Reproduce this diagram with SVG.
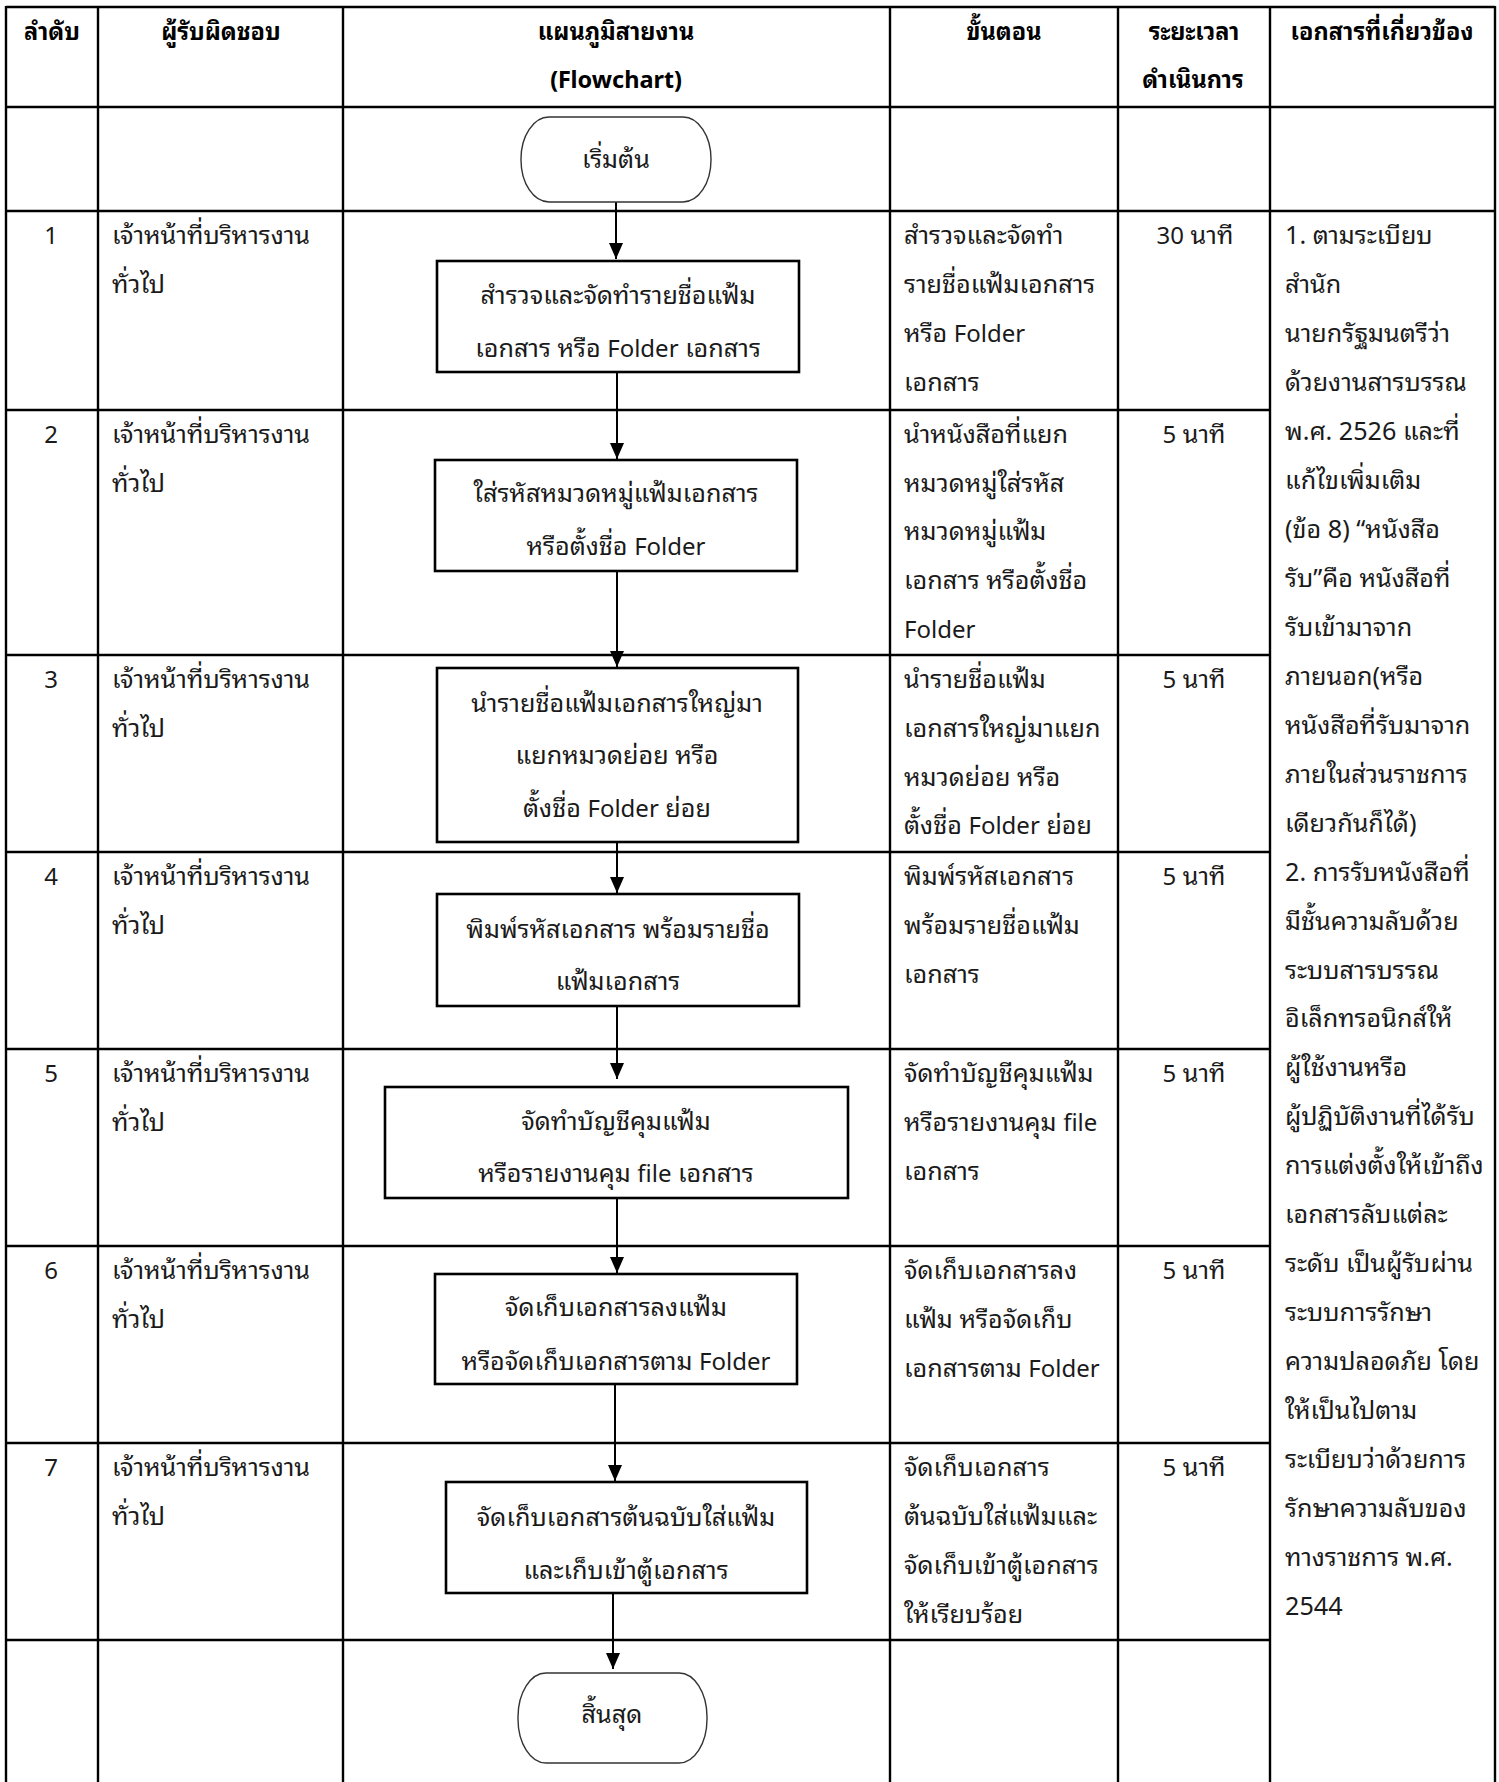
<svg xmlns="http://www.w3.org/2000/svg" width="1499" height="1782" viewBox="0 0 1499 1782">
<style>
.grid{stroke:#000;stroke-width:2.4;fill:none}
.t{font-family:"Noto Sans Thai Looped","Leelawadee UI","Noto Sans Thai","Noto Sans",sans-serif;font-size:25.2px;fill:#1a1a1a}
.h{font-family:"Noto Sans Thai Looped","Leelawadee UI","Noto Sans Thai","Noto Sans",sans-serif;font-size:23.5px;font-weight:bold;fill:#000}
.l{font-size:24px}
.c{text-anchor:middle}
.box{fill:#fff;stroke:#000;stroke-width:2.6}
.term{fill:#fff;stroke:#333;stroke-width:1.4}
.conn{stroke:#000;stroke-width:2;fill:none}
</style>
<defs>
<marker id="arr" markerUnits="userSpaceOnUse" markerWidth="16" markerHeight="16" refX="16" refY="7" orient="auto">
<path d="M0,0 L16,7 L0,14 z" fill="#000"/>
</marker>
</defs>
<rect width="1499" height="1782" fill="#fff"/>
<g id="table">
<line class="grid" x1="6" y1="7" x2="1495" y2="7"/>
<line class="grid" x1="6" y1="107" x2="1495" y2="107"/>
<line class="grid" x1="6" y1="211" x2="1495" y2="211"/>
<line class="grid" x1="6" y1="410" x2="1270" y2="410"/>
<line class="grid" x1="6" y1="655" x2="1270" y2="655"/>
<line class="grid" x1="6" y1="852" x2="1270" y2="852"/>
<line class="grid" x1="6" y1="1049" x2="1270" y2="1049"/>
<line class="grid" x1="6" y1="1246" x2="1270" y2="1246"/>
<line class="grid" x1="6" y1="1443" x2="1270" y2="1443"/>
<line class="grid" x1="6" y1="1640" x2="1270" y2="1640"/>
<line class="grid" x1="6" y1="6" x2="6" y2="1782"/>
<line class="grid" x1="98" y1="6" x2="98" y2="1782"/>
<line class="grid" x1="343" y1="6" x2="343" y2="1782"/>
<line class="grid" x1="890" y1="6" x2="890" y2="1782"/>
<line class="grid" x1="1118" y1="6" x2="1118" y2="1782"/>
<line class="grid" x1="1270" y1="6" x2="1270" y2="1782"/>
<line class="grid" x1="1495" y1="6" x2="1495" y2="1782"/>
</g>
<g id="header">
<text class="h c" x="52" y="40">ลำดับ</text>
<text class="h c" x="221" y="40">ผู้รับผิดชอบ</text>
<text class="h c" x="616" y="40">แผนภูมิสายงาน</text>
<text class="h c" x="616" y="88">(Flowchart)</text>
<text class="h c" x="1004" y="40">ขั้นตอน</text>
<text class="h c" x="1194" y="40">ระยะเวลา</text>
<text class="h c" x="1193" y="88">ดำเนินการ</text>
<text class="h c" x="1382" y="40">เอกสารที่เกี่ยวข้อง</text>
</g>
<g id="connectors">
<line class="conn" x1="616" y1="202" x2="616" y2="259" marker-end="url(#arr)"/>
<line class="conn" x1="617" y1="372" x2="617" y2="459" marker-end="url(#arr)"/>
<line class="conn" x1="617" y1="571" x2="617" y2="667" marker-end="url(#arr)"/>
<line class="conn" x1="617" y1="842" x2="617" y2="893" marker-end="url(#arr)"/>
<line class="conn" x1="617" y1="1006" x2="617" y2="1079" marker-end="url(#arr)"/>
<line class="conn" x1="617" y1="1198" x2="617" y2="1273" marker-end="url(#arr)"/>
<line class="conn" x1="615" y1="1384" x2="615" y2="1481" marker-end="url(#arr)"/>
<line class="conn" x1="613" y1="1593" x2="613" y2="1669" marker-end="url(#arr)"/>
</g>
<g id="start">
<rect class="term" x="521" y="117" width="190" height="85" rx="28" ry="42"/>
<text class="t c" x="616" y="168">เริ่มต้น</text>
</g>
<g id="step1">
<rect class="box" x="437" y="261" width="362" height="111"/>
<text class="t c" x="618" y="304">สำรวจและจัดทำรายชื่อแฟ้ม</text>
<text class="t c" x="618" y="357">เอกสาร หรือ <tspan class="l">Folder</tspan> เอกสาร</text>
</g>
<g id="step2">
<rect class="box" x="435" y="460" width="362" height="111"/>
<text class="t c" x="616" y="502">ใส่รหัสหมวดหมู่แฟ้มเอกสาร</text>
<text class="t c" x="616" y="555">หรือตั้งชื่อ <tspan class="l">Folder</tspan></text>
</g>
<g id="step3">
<rect class="box" x="437" y="668" width="361" height="174"/>
<text class="t c" x="617" y="712">นำรายชื่อแฟ้มเอกสารใหญ่มา</text>
<text class="t c" x="617" y="764">แยกหมวดย่อย หรือ</text>
<text class="t c" x="617" y="817">ตั้งชื่อ <tspan class="l">Folder</tspan> ย่อย</text>
</g>
<g id="step4">
<rect class="box" x="437" y="894" width="362" height="112"/>
<text class="t c" x="618" y="938">พิมพ์รหัสเอกสาร พร้อมรายชื่อ</text>
<text class="t c" x="618" y="990">แฟ้มเอกสาร</text>
</g>
<g id="step5">
<rect class="box" x="385" y="1087" width="463" height="111"/>
<text class="t c" x="616" y="1130">จัดทำบัญชีคุมแฟ้ม</text>
<text class="t c" x="616" y="1182">หรือรายงานคุม <tspan class="l">file</tspan> เอกสาร</text>
</g>
<g id="step6">
<rect class="box" x="435" y="1274" width="362" height="110"/>
<text class="t c" x="616" y="1316">จัดเก็บเอกสารลงแฟ้ม</text>
<text class="t c" x="616" y="1370">หรือจัดเก็บเอกสารตาม <tspan class="l">Folder</tspan></text>
</g>
<g id="step7">
<rect class="box" x="446" y="1482" width="361" height="111"/>
<text class="t c" x="626" y="1526">จัดเก็บเอกสารต้นฉบับใส่แฟ้ม</text>
<text class="t c" x="626" y="1579">และเก็บเข้าตู้เอกสาร</text>
</g>
<g id="end">
<rect class="term" x="518" y="1673" width="189" height="90" rx="28" ry="44"/>
<text class="t c" x="612" y="1723">สิ้นสุด</text>
</g>
<g id="col-no">
<text class="t c l" x="51" y="244">1</text>
<text class="t c l" x="51" y="443">2</text>
<text class="t c l" x="51" y="688">3</text>
<text class="t c l" x="51" y="885">4</text>
<text class="t c l" x="51" y="1082">5</text>
<text class="t c l" x="51" y="1279">6</text>
<text class="t c l" x="51" y="1476">7</text>
</g>
<g id="col-resp">
<text class="t" x="112" y="244">เจ้าหน้าที่บริหารงาน</text><text class="t" x="112" y="293">ทั่วไป</text>
<text class="t" x="112" y="443">เจ้าหน้าที่บริหารงาน</text><text class="t" x="112" y="492">ทั่วไป</text>
<text class="t" x="112" y="688">เจ้าหน้าที่บริหารงาน</text><text class="t" x="112" y="737">ทั่วไป</text>
<text class="t" x="112" y="885">เจ้าหน้าที่บริหารงาน</text><text class="t" x="112" y="934">ทั่วไป</text>
<text class="t" x="112" y="1082">เจ้าหน้าที่บริหารงาน</text><text class="t" x="112" y="1131">ทั่วไป</text>
<text class="t" x="112" y="1279">เจ้าหน้าที่บริหารงาน</text><text class="t" x="112" y="1328">ทั่วไป</text>
<text class="t" x="112" y="1476">เจ้าหน้าที่บริหารงาน</text><text class="t" x="112" y="1525">ทั่วไป</text>
</g>
<g id="col-steps">
<text class="t" x="904" y="244">สำรวจและจัดทำ</text>
<text class="t" x="904" y="293">รายชื่อแฟ้มเอกสาร</text>
<text class="t" x="904" y="342">หรือ <tspan class="l">Folder</tspan></text>
<text class="t" x="904" y="391">เอกสาร</text>
<text class="t" x="904" y="443">นำหนังสือที่แยก</text>
<text class="t" x="904" y="492">หมวดหมู่ใส่รหัส</text>
<text class="t" x="904" y="540">หมวดหมู่แฟ้ม</text>
<text class="t" x="904" y="589">เอกสาร หรือตั้งชื่อ</text>
<text class="t l" x="904" y="638">Folder</text>
<text class="t" x="904" y="688">นำรายชื่อแฟ้ม</text>
<text class="t" x="904" y="737">เอกสารใหญ่มาแยก</text>
<text class="t" x="904" y="786">หมวดย่อย หรือ</text>
<text class="t" x="904" y="834">ตั้งชื่อ <tspan class="l">Folder</tspan> ย่อย</text>
<text class="t" x="904" y="885">พิมพ์รหัสเอกสาร</text>
<text class="t" x="904" y="934">พร้อมรายชื่อแฟ้ม</text>
<text class="t" x="904" y="983">เอกสาร</text>
<text class="t" x="904" y="1082">จัดทำบัญชีคุมแฟ้ม</text>
<text class="t" x="904" y="1131">หรือรายงานคุม <tspan class="l">file</tspan></text>
<text class="t" x="904" y="1180">เอกสาร</text>
<text class="t" x="904" y="1279">จัดเก็บเอกสารลง</text>
<text class="t" x="904" y="1328">แฟ้ม หรือจัดเก็บ</text>
<text class="t" x="904" y="1377">เอกสารตาม <tspan class="l">Folder</tspan></text>
<text class="t" x="904" y="1476">จัดเก็บเอกสาร</text>
<text class="t" x="904" y="1525">ต้นฉบับใส่แฟ้มและ</text>
<text class="t" x="904" y="1574">จัดเก็บเข้าตู้เอกสาร</text>
<text class="t" x="904" y="1623">ให้เรียบร้อย</text>
</g>
<g id="col-time">
<text class="t c" x="1195" y="244"><tspan class="l">30</tspan> นาที</text>
<text class="t c" x="1194" y="443"><tspan class="l">5</tspan> นาที</text>
<text class="t c" x="1194" y="688"><tspan class="l">5</tspan> นาที</text>
<text class="t c" x="1194" y="885"><tspan class="l">5</tspan> นาที</text>
<text class="t c" x="1194" y="1082"><tspan class="l">5</tspan> นาที</text>
<text class="t c" x="1194" y="1279"><tspan class="l">5</tspan> นาที</text>
<text class="t c" x="1194" y="1476"><tspan class="l">5</tspan> นาที</text>
</g>
<g id="col-docs">
<text class="t" x="1285" y="244">1. ตามระเบียบ</text>
<text class="t" x="1285" y="293">สำนัก</text>
<text class="t" x="1285" y="342">นายกรัฐมนตรีว่า</text>
<text class="t" x="1285" y="391">ด้วยงานสารบรรณ</text>
<text class="t" x="1285" y="440">พ.ศ. 2526 และที่</text>
<text class="t" x="1285" y="489">แก้ไขเพิ่มเติม</text>
<text class="t" x="1285" y="538">(ข้อ 8) “หนังสือ</text>
<text class="t" x="1285" y="587">รับ”คือ หนังสือที่</text>
<text class="t" x="1285" y="636">รับเข้ามาจาก</text>
<text class="t" x="1285" y="685">ภายนอก(หรือ</text>
<text class="t" x="1285" y="734">หนังสือที่รับมาจาก</text>
<text class="t" x="1285" y="783">ภายในส่วนราชการ</text>
<text class="t" x="1285" y="832">เดียวกันก็ได้)</text>
<text class="t" x="1285" y="881">2. การรับหนังสือที่</text>
<text class="t" x="1285" y="930">มีชั้นความลับด้วย</text>
<text class="t" x="1285" y="979">ระบบสารบรรณ</text>
<text class="t" x="1285" y="1027">อิเล็กทรอนิกส์ให้</text>
<text class="t" x="1285" y="1076">ผู้ใช้งานหรือ</text>
<text class="t" x="1285" y="1125">ผู้ปฏิบัติงานที่ได้รับ</text>
<text class="t" x="1285" y="1174">การแต่งตั้งให้เข้าถึง</text>
<text class="t" x="1285" y="1223">เอกสารลับแต่ละ</text>
<text class="t" x="1285" y="1272">ระดับ เป็นผู้รับผ่าน</text>
<text class="t" x="1285" y="1321">ระบบการรักษา</text>
<text class="t" x="1285" y="1370">ความปลอดภัย โดย</text>
<text class="t" x="1285" y="1419">ให้เป็นไปตาม</text>
<text class="t" x="1285" y="1468">ระเบียบว่าด้วยการ</text>
<text class="t" x="1285" y="1517">รักษาความลับของ</text>
<text class="t" x="1285" y="1566">ทางราชการ พ.ศ.</text>
<text class="t" x="1285" y="1615">2544</text>
</g>
</svg>
